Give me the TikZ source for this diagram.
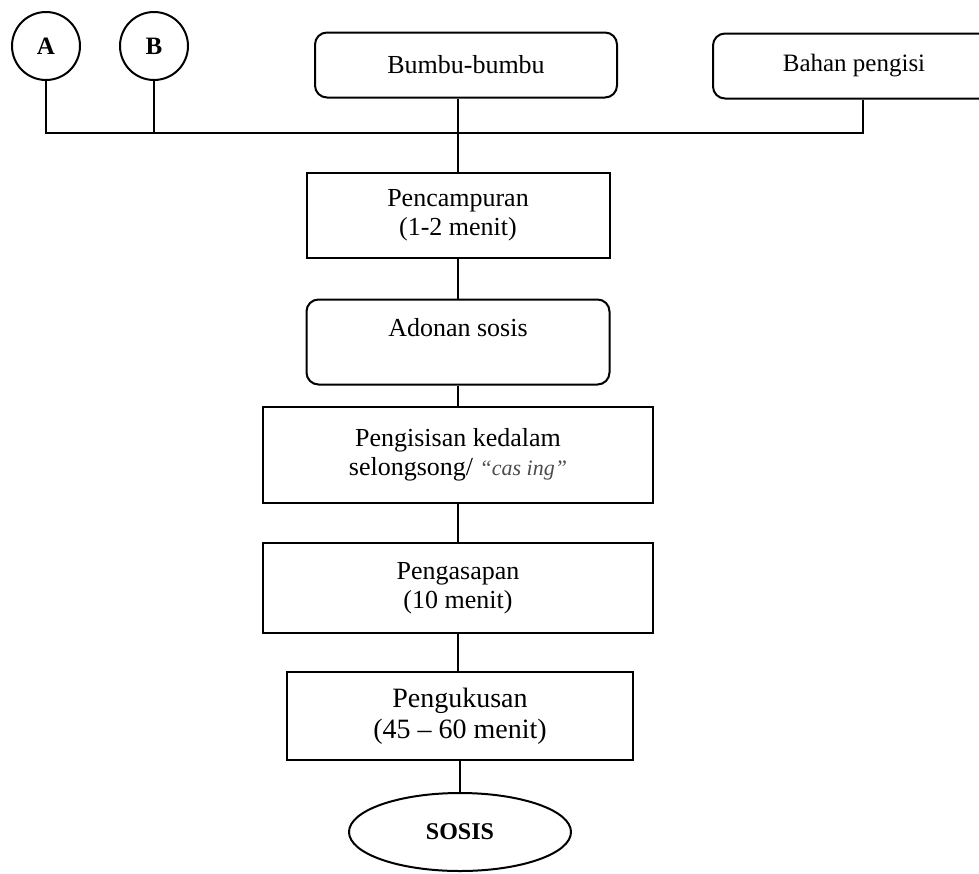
\documentclass[tikz,border=0pt]{standalone}
\usepackage{fontspec}
\setmainfont{Liberation Serif}
\usetikzlibrary{shapes.geometric}

\begin{document}
\begin{tikzpicture}[
        x=1pt, y=-1pt,
        line width=2pt,
        box/.style={rectangle, draw, align=center, inner sep=2pt, font=\fontsize{26}{29}\selectfont},
        rbox/.style={box, rounded corners=12pt},
        circ/.style={circle, draw, minimum size=68pt, inner sep=0pt, font=\bfseries\fontsize{25}{25}\selectfont},
        oval/.style={ellipse, draw, minimum width=222pt, minimum height=78pt, font=\bfseries\fontsize{24}{24}\selectfont}
    ]
        \useasboundingbox (0,0) rectangle (979,873);

        % Nodes
        \node[circ] (A) at (46,46) {A};
        \node[circ] (B) at (154,46) {B};
        \node[rbox, minimum width=302pt, minimum height=65pt] (bumbu) at (466,65) {Bumbu-bumbu};
        \node[rbox, minimum width=282pt, minimum height=65pt, font=\fontsize{25}{28}\selectfont] (bahan) at (854,66) {Bahan pengisi};
        \node[box, minimum width=303pt, minimum height=85pt] (mix) at (458,215) {Pencampuran\\(1-2 menit)};
        \node[rbox, minimum width=303pt, minimum height=85pt] (dough) at (458,342) {Adonan sosis\\\mbox{}};
        \node[box, minimum width=390pt, minimum height=96pt] (fill) at (458,455) {Pengisisan kedalam\\selongsong/ {\itshape\color{black!70}\fontsize{22}{26}\selectfont ``cas ing''}};
        \node[box, minimum width=390pt, minimum height=90pt] (smoke) at (458,588) {Pengasapan\\(10 menit)};
        \node[box, minimum width=346pt, minimum height=88pt, font=\fontsize{28}{31}\selectfont] (steam) at (460,716) {Pengukusan\\(45 -- 60 menit)};
        \node[oval] (sosis) at (460,832) {SOSIS};

        % Lines
        \coordinate (busL) at (46,133);
        \coordinate (busR) at (863,133);
        \draw (A) -- (A |- busL) -- (busR) -- (busR |- bahan.south);
        \draw (B) -- (B |- busL);
        \draw (bumbu.south -| mix.north) -- (mix.north);
        \draw (mix) -- (dough);
        \draw (dough) -- (fill);
        \draw (fill) -- (smoke);
        \draw (smoke) -- (smoke |- steam.north);
        \draw (steam) -- (sosis);

    \end{tikzpicture}
\end{document}
